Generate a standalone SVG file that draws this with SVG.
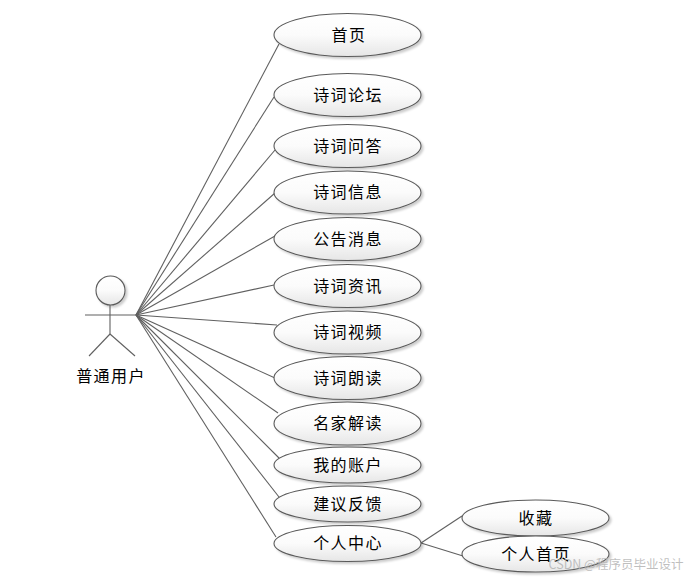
<svg xmlns="http://www.w3.org/2000/svg" width="691" height="579" viewBox="0 0 691 579">
<style>
text{font-family:"Noto Sans CJK SC","Liberation Sans",sans-serif;font-size:16px;fill:#000;text-anchor:middle;letter-spacing:1.4px}
.n ellipse{fill:url(#g);stroke:#5a5a5a;stroke-width:1.1;filter:url(#s)}
.c line{stroke:#606060;stroke-width:1.1}
.a line{stroke:#606060;stroke-width:1.1}
</style>
<defs>
<linearGradient id="g" x1="0" y1="0" x2="0" y2="1"><stop offset="0" stop-color="#fff"/><stop offset="0.5" stop-color="#fbfbfb"/><stop offset="1" stop-color="#e6e6e6"/></linearGradient>
<filter id="s" x="-10%" y="-20%" width="125%" height="150%"><feDropShadow dx="2" dy="2" stdDeviation="1" flood-color="#000" flood-opacity="0.2"/></filter>
</defs>
<rect width="691" height="579" fill="#fff"/>
<g class="c" id="connectors">
<line x1="136" y1="315" x2="279" y2="44"/>
<line x1="136" y1="315" x2="274" y2="97"/>
<line x1="136" y1="315" x2="275" y2="150"/>
<line x1="136" y1="315" x2="275" y2="193"/>
<line x1="136" y1="315" x2="275" y2="236"/>
<line x1="136" y1="315" x2="274" y2="285"/>
<line x1="136" y1="315" x2="277" y2="325"/>
<line x1="136" y1="315" x2="275" y2="378"/>
<line x1="136" y1="315" x2="278" y2="413"/>
<line x1="136" y1="315" x2="279" y2="458"/>
<line x1="136" y1="315" x2="279" y2="497"/>
<line x1="136" y1="315" x2="276" y2="537"/>
<line x1="421" y1="543" x2="462" y2="516"/>
<line x1="421" y1="543" x2="463" y2="556"/>
</g>
<g id="actor" class="a">
<circle cx="110.500" cy="290.500" r="14.500" fill="url(#g)" stroke="#5a5a5a" stroke-width="1.1" filter="url(#s)"/>
<line x1="110" y1="305" x2="110" y2="334"/>
<line x1="85" y1="315" x2="136" y2="315"/>
<line x1="110" y1="334" x2="89" y2="356"/>
<line x1="110" y1="334" x2="135" y2="356"/>
<text x="111" y="382">普通用户</text>
</g>
<g class="n" id="n1"><ellipse cx="347.500" cy="35" rx="73.500" ry="21.500"/><text x="349" y="41">首页</text></g>
<g class="n" id="n2"><ellipse cx="347.500" cy="95" rx="73.500" ry="21.500"/><text x="348" y="101">诗词论坛</text></g>
<g class="n" id="n3"><ellipse cx="347.500" cy="146" rx="73.500" ry="21.500"/><text x="348" y="152">诗词问答</text></g>
<g class="n" id="n4"><ellipse cx="347.500" cy="192.500" rx="73.500" ry="21.500"/><text x="348" y="198">诗词信息</text></g>
<g class="n" id="n5"><ellipse cx="347.500" cy="239" rx="73.500" ry="21.500"/><text x="348" y="245">公告消息</text></g>
<g class="n" id="n6"><ellipse cx="347.500" cy="286" rx="73.500" ry="21.500"/><text x="348" y="292">诗词资讯</text></g>
<g class="n" id="n7"><ellipse cx="347.500" cy="332.500" rx="73.500" ry="21.500"/><text x="348" y="338">诗词视频</text></g>
<g class="n" id="n8"><ellipse cx="347.500" cy="378" rx="73.500" ry="21.500"/><text x="348" y="384">诗词朗读</text></g>
<g class="n" id="n9"><ellipse cx="347.500" cy="423.500" rx="73.500" ry="21.500"/><text x="348" y="429">名家解读</text></g>
<g class="n" id="n10"><ellipse cx="347.500" cy="465" rx="73.500" ry="18"/><text x="348" y="471">我的账户</text></g>
<g class="n" id="n11"><ellipse cx="347.500" cy="504" rx="73.500" ry="18"/><text x="348" y="510">建议反馈</text></g>
<g class="n" id="n12"><ellipse cx="347.500" cy="543.500" rx="73.500" ry="18"/><text x="348" y="549">个人中心</text></g>
<g class="n" id="n13"><ellipse cx="535.500" cy="518" rx="73.500" ry="18"/><text x="536" y="524">收藏</text></g>
<g class="n" id="n14"><ellipse cx="535.500" cy="554" rx="73.500" ry="18"/><text x="536" y="560">个人首页</text></g>
<text x="616" y="569" style="font-size:12.5px;fill:#b4b4b4;fill-opacity:.85;letter-spacing:0">CSDN @程序员毕业设计</text>
</svg>
